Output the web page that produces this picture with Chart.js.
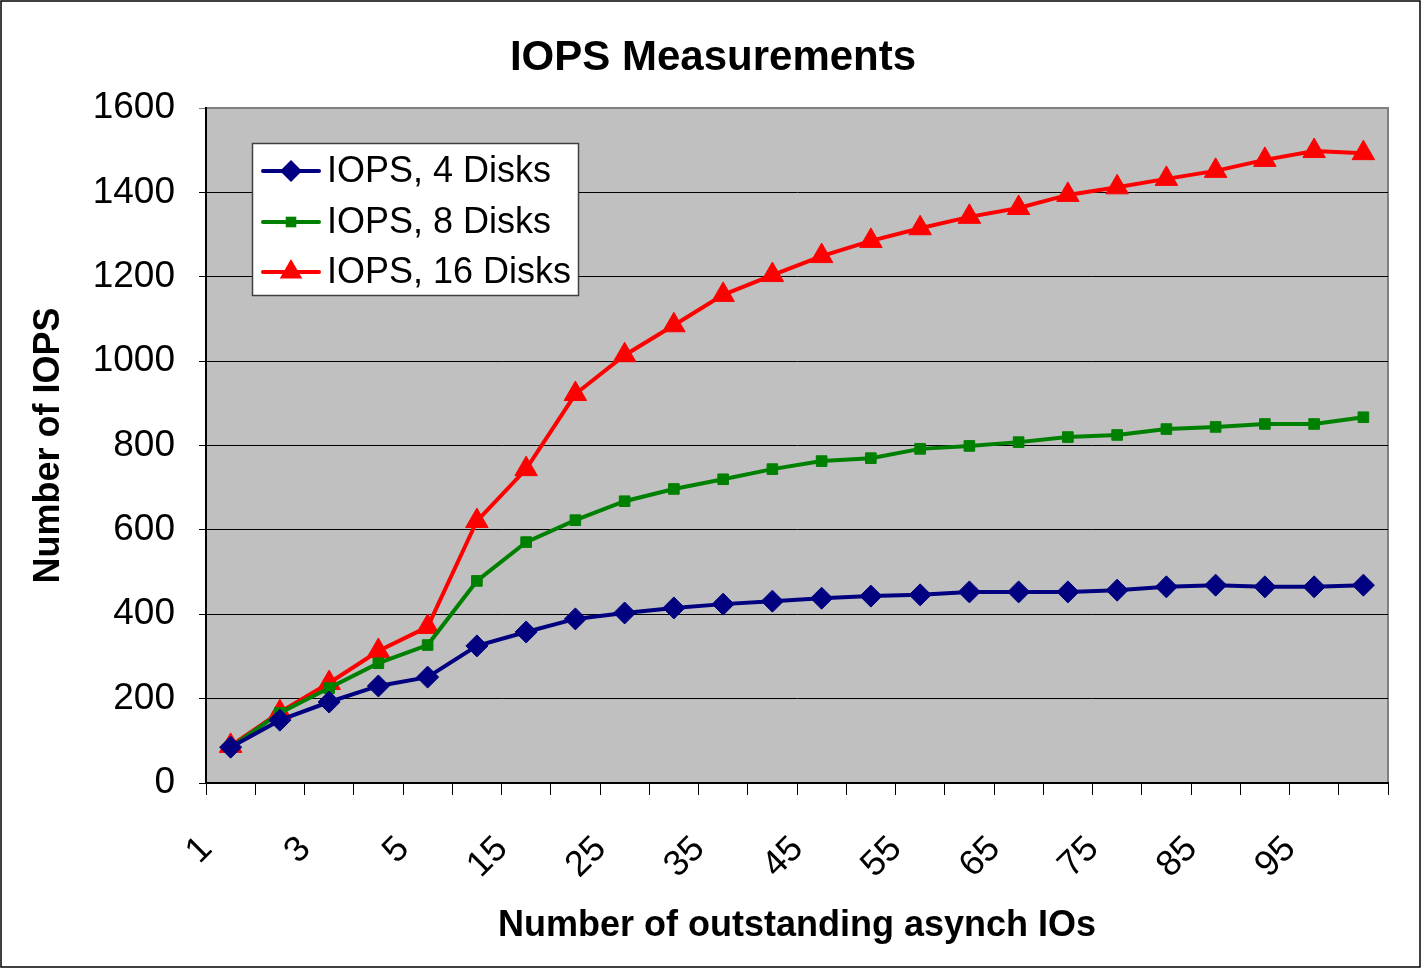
<!DOCTYPE html>
<html>
<head>
<meta charset="utf-8">
<script src="https://cdn.jsdelivr.net/npm/chart.js@4/dist/chart.umd.min.js"></script>
<style>
  html, body { margin: 0; padding: 0; background: #fff; }
  #wrap { width: 1421px; height: 968px; }
</style>
</head>
<body>
<div id="wrap"><canvas id="iopsChart" width="1421" height="968"></canvas></div>
<script>
const categories = ['1', '2', '3', '4', '5', '10', '15', '20', '25', '30', '35', '40',
  '45', '50', '55', '60', '65', '70', '75', '80', '85', '90', '95', '100'];

const iops4Disks = [85, 149, 192, 230, 251, 325, 358, 389, 403, 415, 424, 431,
  438, 443, 446, 453, 453, 453, 457, 465, 469, 465, 465, 469];

const iops8Disks = [85, 166, 225, 284, 327, 479, 571, 623, 668, 697, 720, 744,
  763, 770, 792, 799, 808, 820, 825, 839, 844, 851, 851, 867];

const iops16Disks = [88, 168, 237, 313, 370, 621, 744, 922, 1014, 1085, 1157, 1204,
  1249, 1285, 1315, 1342, 1363, 1394, 1412, 1432, 1451, 1477, 1498, 1493];

const seriesNames = ['IOPS, 4 Disks', 'IOPS, 8 Disks', 'IOPS, 16 Disks'];

const FONT = '"Liberation Sans", Arial, sans-serif';

function drawMarker(ctx, style, x, y, r) {
  if (style === 'rectRot') {
    ctx.moveTo(x - r, y); ctx.lineTo(x, y - r); ctx.lineTo(x + r, y); ctx.lineTo(x, y + r);
  } else if (style === 'rect') {
    const s = r * Math.SQRT1_2;
    ctx.rect(x - s, y - s, 2 * s, 2 * s);
  } else {
    const h = r * Math.sqrt(3) / 2;
    ctx.moveTo(x, y - r); ctx.lineTo(x + h, y + r / 2); ctx.lineTo(x - h, y + r / 2);
  }
  ctx.closePath();
}

// background, plot frame, title, inline legend and outer border
const framePlugin = {
  id: 'frame',
  beforeDraw(chart) {
    const { ctx, chartArea: a } = chart;
    ctx.save();
    ctx.fillStyle = '#fff';
    ctx.fillRect(0, 0, chart.width, chart.height);
    ctx.fillStyle = '#c0c0c0';
    ctx.fillRect(a.left, a.top, a.right - a.left, a.bottom - a.top);
    ctx.strokeStyle = '#808080';
    ctx.lineWidth = 2;
    ctx.beginPath();
    ctx.moveTo(a.left, a.top);
    ctx.lineTo(a.right, a.top);
    ctx.lineTo(a.right, a.bottom);
    ctx.stroke();
    ctx.restore();
  },
  afterDraw(chart) {
    const { ctx } = chart;
    ctx.save();
    // title
    ctx.fillStyle = '#000';
    ctx.font = 'bold 42px ' + FONT;
    ctx.textAlign = 'center';
    ctx.textBaseline = 'middle';
    ctx.fillText('IOPS Measurements', 713, 58);

    // legend box
    const bx = 252, by = 143, bw = 326, bh = 152;
    ctx.fillStyle = '#fff';
    ctx.fillRect(bx, by, bw, bh);
    ctx.strokeStyle = '#404040';
    ctx.lineWidth = 1.5;
    ctx.strokeRect(bx + 0.5, by + 0.5, bw, bh);
    const rowY = [171, 222, 272];
    chart.data.datasets.forEach((ds, i) => {
      const y = rowY[i];
      ctx.strokeStyle = ds.borderColor;
      ctx.lineWidth = 4;
      ctx.lineCap = 'round';
      ctx.beginPath();
      ctx.moveTo(263, y);
      ctx.lineTo(319, y);
      ctx.stroke();
      ctx.fillStyle = ds.pointBackgroundColor;
      ctx.beginPath();
      drawMarker(ctx, ds.pointStyle, 291, y, ds.pointRadius);
      ctx.fill();
      ctx.fillStyle = '#000';
      ctx.font = '36px ' + FONT;
      ctx.textAlign = 'left';
      ctx.textBaseline = 'middle';
      ctx.fillText(seriesNames[i], 327, y + 1);
    });

    // outer border
    ctx.strokeStyle = '#000';
    ctx.lineWidth = 1.5;
    ctx.strokeRect(1, 1, chart.width - 2, chart.height - 2);
    ctx.restore();
  }
};

new Chart(document.getElementById('iopsChart'), {
  type: 'line',
  data: {
    labels: categories,
    datasets: [
      {
        label: seriesNames[0],
        data: iops4Disks,
        borderColor: '#000080',
        pointBackgroundColor: '#000080',
        pointBorderColor: '#000080',
        borderWidth: 4,
        pointStyle: 'rectRot',
        pointRadius: 11,
        pointBorderWidth: 1
      },
      {
        label: seriesNames[1],
        data: iops8Disks,
        borderColor: '#008000',
        pointBackgroundColor: '#008000',
        pointBorderColor: '#008000',
        borderWidth: 4,
        pointStyle: 'rect',
        pointRadius: 7.5,
        pointBorderWidth: 1
      },
      {
        label: seriesNames[2],
        data: iops16Disks,
        borderColor: '#ff0000',
        pointBackgroundColor: '#ff0000',
        pointBorderColor: '#ff0000',
        borderWidth: 4,
        pointStyle: 'triangle',
        pointRadius: 13,
        pointBorderWidth: 1
      }
    ]
  },
  options: {
    responsive: false,
    animation: false,
    devicePixelRatio: 1,
    layout: { padding: { top: 108, right: 33, bottom: 0, left: 0 } },
    elements: { line: { tension: 0 } },
    plugins: {
      legend: { display: false },
      title: { display: false },
      tooltip: { enabled: false }
    },
    scales: {
      x: {
        offset: true,
        afterFit: (scale) => {
          scale.height = 185;
          scale.paddingLeft = 0;
          scale.paddingRight = 0;
        },
        grid: {
          offset: true,
          drawOnChartArea: false,
          drawTicks: true,
          tickLength: 12,
          color: '#000',
          lineWidth: 1
        },
        border: { color: '#000', width: 2 },
        ticks: {
          autoSkip: false,
          minRotation: 45,
          maxRotation: 45,
          padding: 33,
          labelOffset: -24,
          color: '#000',
          font: { family: FONT, size: 36 },
          callback: (value, index) => (index % 2 === 0 ? categories[index] : '')
        },
        title: {
          display: true,
          text: 'Number of outstanding asynch IOs',
          color: '#000',
          font: { family: FONT, size: 36, weight: 'bold' },
          padding: { top: 0, bottom: 20 }
        }
      },
      y: {
        min: 0,
        max: 1600,
        afterFit: (scale) => {
          scale.width = 206;
          scale.paddingTop = 0;
          scale.paddingBottom = 0;
        },
        grid: {
          drawTicks: true,
          tickLength: 7,
          color: (c) => (c.tick && c.tick.value === 1600 ? '#808080' : '#000'),
          lineWidth: 1
        },
        border: { color: '#000', width: 2 },
        ticks: {
          stepSize: 200,
          padding: 24,
          color: '#000',
          font: { family: FONT, size: 37 },
          callback: (value) => String(value)
        },
        title: {
          display: true,
          text: 'Number of IOPS',
          color: '#000',
          font: { family: FONT, size: 36, weight: 'bold' },
          padding: { top: 27, bottom: 0 }
        }
      }
    }
  },
  plugins: [framePlugin]
});
</script>
</body>
</html>
